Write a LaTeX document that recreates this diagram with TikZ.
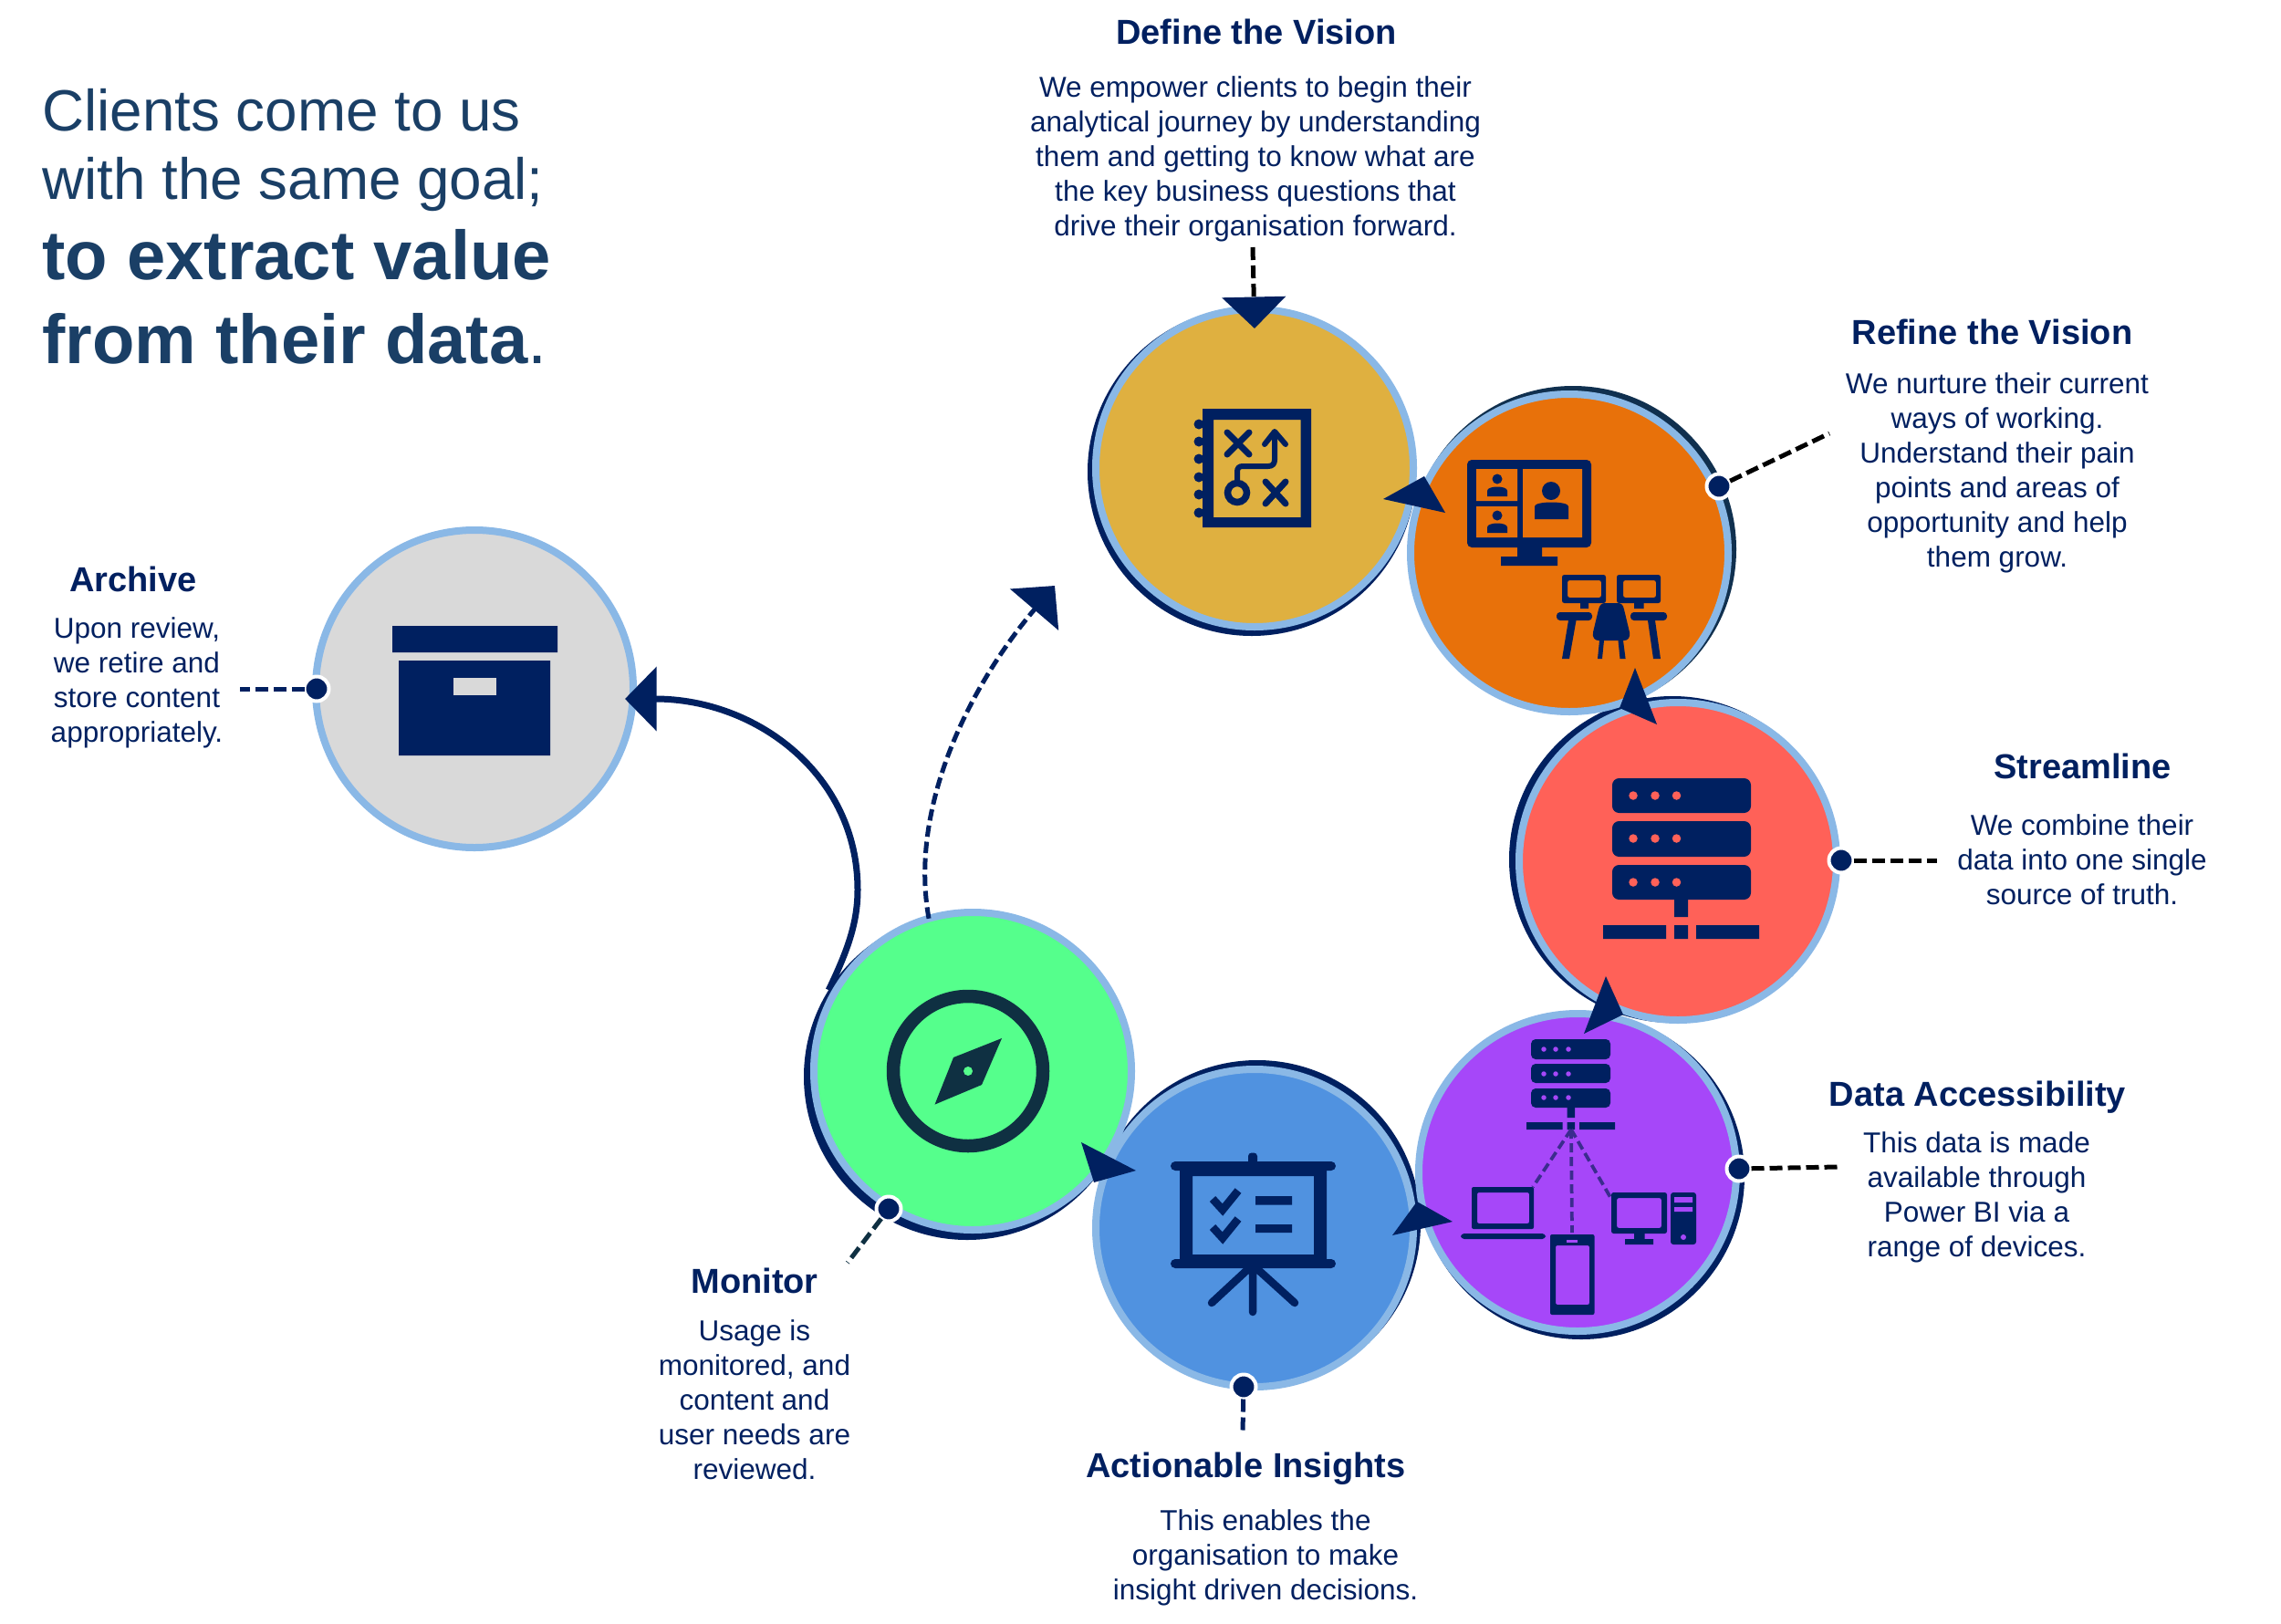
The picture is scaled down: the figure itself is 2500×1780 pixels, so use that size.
\documentclass[tikz,border=0pt]{standalone}
\usepackage{fontspec}
\setmainfont{Liberation Sans}
\usetikzlibrary{arrows.meta}
\definecolor{navy}{HTML}{002060}
\definecolor{ringblue}{HTML}{8AB8E6}
\definecolor{deepteal}{HTML}{0F3042}
\definecolor{titleblue}{HTML}{1A3F66}
\definecolor{refinedark}{HTML}{10304F}
\definecolor{fillgold}{HTML}{DFB040}
\definecolor{fillorange}{HTML}{E8710A}
\definecolor{fillred}{HTML}{FF6158}
\definecolor{fillpurple}{HTML}{A647F9}
\definecolor{fillblue}{HTML}{5092E0}
\definecolor{fillgreen}{HTML}{55FF8C}
\definecolor{fillgrey}{HTML}{D9D9D9}
\definecolor{linkpurple}{HTML}{3B2C8E}
\tikzset{
  disc/.style={circle,draw=ringblue,line width=3.2pt,minimum size=139.2pt,inner sep=0pt,outer sep=0pt},
  backdisc/.style={circle,minimum size=#1,inner sep=0pt,outer sep=0pt},
  pin/.style={circle,fill=navy,draw=white,line width=1.6pt,minimum size=10.8pt,inner sep=0pt,outer sep=0pt},
  leader/.style={line width=2pt,dash pattern=on 5.6pt off 2.4pt},
  arrowhead/.style={fill=navy},
  headtip/.style={-{Triangle[length=13.8pt,width=27.6pt,fill=navy,color=navy]}},
  heading/.style={font=\fontsize{15.2}{18}\selectfont\bfseries,text=navy,inner sep=0pt},
  bodytext/.style={font=\fontsize{12.6}{15.2}\selectfont,text=navy,align=center,inner sep=0pt},
  titlereg/.style={font=\fontsize{25.5}{30}\selectfont,text=titleblue,inner sep=0pt,anchor=base west},
  titlebold/.style={font=\fontsize{30.4}{34}\selectfont\bfseries,text=titleblue,inner sep=0pt,anchor=base west},
  icon/.style={fill=navy},
  iconline/.style={draw=navy,line width=2.8pt,line cap=round,line join=round},
}
\newcommand{\personfig}[7]{%
  \fill[icon] (#1,#2) circle (#3pt);
  \fill[icon] (#4,#7) -- (#4,#6+5) .. controls (#4,#6-1) and (#5,#6-1) .. (#5,#6+5) -- (#5,#7) -- cycle;
}
\begin{document}
\begin{tikzpicture}[x=0.4pt,y=-0.4pt]
\useasboundingbox (0,0) rectangle (2500,1780);
\fill[white] (0,0) rectangle (2500,1780);

% dark backing circles
\node[backdisc=144pt,fill=navy] (defineback) at (1372,517) {};
\node[backdisc=143.2pt,fill=refinedark] (refineback) at (1724,602) {};
\node[backdisc=143.2pt,fill=navy] (streamback) at (1833,942) {};
\node[backdisc=143.2pt,fill=navy] (accessback) at (1733,1289) {};
\node[backdisc=143.2pt,fill=navy] (insightback) at (1378,1341) {};
\node[backdisc=143.2pt,fill=navy] (monitorback) at (1060,1180) {};

% discs
\node[disc,fill=fillgold] (define) at (1375,513) {};
\node[disc,fill=fillorange] (refine) at (1720,606) {};
\node[disc,fill=fillred] (stream) at (1839,944) {};
\node[disc,fill=fillpurple] (access) at (1729,1285) {};
\node[disc,fill=fillblue] (insight) at (1375,1346) {};
\node[disc,fill=fillgrey] (archive) at (520,755) {};

% curved connectors
\coordinate (archivein) at (685,766);
\coordinate (defineaim) at (1156,642);
\draw[navy,line width=2.8pt,headtip] (monitorback.148.5) .. controls (930,1040) and (940,1010) .. (940,975) .. controls (940,850) and (830,766) .. (archivein);
\node[disc,fill=fillgreen] (monitor) at (1066,1174) {};
\draw[navy,line width=2pt,dash pattern=on 5pt off 2.2pt,headtip] (monitor.106) .. controls (995,880) and (1068,745) .. (defineaim);

% arrowheads between the discs
\coordinate (tipa) at (1516,547); \coordinate (basea1) at (1561,522); \coordinate (basea2) at (1584,562);
\coordinate (tipb) at (1792,732); \coordinate (baseb1) at (1775,776); \coordinate (baseb2) at (1816,794);
\coordinate (tipc) at (1760,1070); \coordinate (basec1) at (1736,1133); \coordinate (basec2) at (1779,1112);
\coordinate (tipd) at (1592,1339); \coordinate (based1) at (1526,1354); \coordinate (based2) at (1553,1317);
\coordinate (tipe) at (1245,1283); \coordinate (basee1) at (1185,1252); \coordinate (basee2) at (1199,1296);
\fill[arrowhead] (tipa) -- (basea1) -- (basea2) -- cycle;
\fill[arrowhead] (tipb) -- (baseb1) -- (baseb2) -- cycle;
\fill[arrowhead] (tipc) -- (basec1) -- (basec2) -- cycle;
\fill[arrowhead] (tipd) -- (based1) -- (based2) -- cycle;
\fill[arrowhead] (tipe) -- (basee1) -- (basee2) -- cycle;

% pins and leaders
\node[pin] (pinrefine) at (1884,533) {};
\node[pin] (pinstream) at (2018,943) {};
\node[pin] (pinaccess) at (1906,1281) {};
\node[pin] (pininsight) at (1363,1520) {};
\node[pin] (pinmonitor) at (974,1325) {};
\node[pin] (pinarchive) at (347,755) {};
\coordinate (leadrefine) at (2005,475);
\coordinate (leadstream) at (2123,943);
\coordinate (leadaccess) at (2015,1279);
\coordinate (leadinsight) at (1362,1570);
\coordinate (leadmonitor) at (929,1384);
\coordinate (leadarchive) at (263,755);
\coordinate (leaddefine) at (1373,271);
\coordinate (definetop) at (1375,360);
\draw[leader,black] (pinrefine) -- (leadrefine);
\draw[leader,black] (pinstream) -- (leadstream);
\draw[leader,black] (pinaccess) -- (leadaccess);
\draw[leader,navy] (pininsight) -- (leadinsight);
\draw[leader,deepteal] (pinmonitor) -- (leadmonitor);
\draw[leader,navy] (pinarchive) -- (leadarchive);
\draw[leader,black,headtip] (leaddefine) -- (definetop);

% Define icon
\fill[icon,even odd rule] (1318,448) rectangle (1437,578) (1330,460) rectangle (1425.5,567);
\foreach \yy in {465,484,503,523,542,562} {\fill[icon] (1314,\yy) circle (2.2pt);\fill[icon] (1310,\yy-1) rectangle (1318,\yy+1);}
\draw[iconline] (1345,474) -- (1369,498) (1369,474) -- (1345,498);
\draw[iconline] (1387,528) -- (1409,552) (1409,528) -- (1387,552);
\draw[iconline,line width=2.4pt] (1356,526) -- (1356,517) .. controls (1356,513) and (1358,511) .. (1362,511) -- (1390,511) .. controls (1395,511) and (1397,508) .. (1397,504) -- (1397,474);
\draw[iconline,line width=2.4pt] (1386,487) -- (1397,473) -- (1409,487);
\draw[navy,line width=3pt] (1356,540) circle (4.2pt);

% Refine icon
\fill[icon,rounded corners=2pt,even odd rule] (1608,504) rectangle (1744,600);
\fill[fillorange] (1618,514) rectangle (1663,549) (1618,555) rectangle (1663,589) (1669,514) rectangle (1734,589);
\fill[icon] (1663,600) rectangle (1690,610) (1645,610) rectangle (1707,620);
\personfig{1641}{525}{2.2}{1630}{1652}{533}{544}
\personfig{1641}{565}{2.2}{1630}{1652}{573}{584}
\personfig{1700}{538}{4}{1682}{1719}{550}{569}
\fill[icon,rounded corners=1pt,even odd rule] (1712,630) rectangle (1760,661) (1718,636) rectangle (1755,655);
\fill[icon,rounded corners=1pt,even odd rule] (1772,630) rectangle (1820,661) (1779,636) rectangle (1815,655);
\fill[icon] (1732,661) rectangle (1741,667) (1791,661) rectangle (1801.5,667);
\fill[icon,rounded corners=1.5pt] (1706,671) rectangle (1745,680);
\fill[icon,rounded corners=1.5pt] (1787,671) rectangle (1827,680);
\fill[icon] (1712,722) -- (1720,722) -- (1727.5,680) -- (1719,680) -- cycle;
\fill[icon] (1812,722) -- (1820,722) -- (1814,680) -- (1806,680) -- cycle;
\fill[icon] (1753,702) -- (1751,722) -- (1756,722) -- (1758,702) -- cycle;
\fill[icon] (1773.5,702) -- (1775.5,722) -- (1781.6,722) -- (1779,702) -- cycle;
\fill[icon] (1752,668) .. controls (1753,663) and (1756,661) .. (1759,661) -- (1773,661) .. controls (1777,661) and (1779,663) .. (1780,668) -- (1786,693) .. controls (1787,699) and (1784,702) .. (1780,702) -- (1752,702) .. controls (1748,702) and (1745,699) .. (1746,693) -- cycle;

% Streamline icon
\fill[icon,rounded corners=3pt] (1767,853) rectangle (1919,891);
\fill[icon,rounded corners=3pt] (1767,900) rectangle (1919,939);
\fill[icon,rounded corners=3pt] (1767,948) rectangle (1919,986);
\foreach \yy in {872,919,967} \foreach \xx in {1790,1814,1837.5} {\fill[fillred] (\xx,\yy) circle (1.9pt);}
\fill[icon] (1835,986) rectangle (1850,1005) (1757,1014) rectangle (1826,1029) (1835,1014) rectangle (1850,1029) (1859,1014) rectangle (1928,1029);

% Data Accessibility icon
\fill[icon,rounded corners=2pt] (1678,1139) rectangle (1765,1161);
\fill[icon,rounded corners=2pt] (1678,1166) rectangle (1765,1187);
\fill[icon,rounded corners=2pt] (1678,1193) rectangle (1765,1214);
\foreach \yy in {1150,1177,1203} \foreach \xx in {1692,1705,1719} {\fill[fillpurple] (\xx,\yy) circle (1.1pt);}
\fill[icon] (1717.5,1214) rectangle (1726,1225) (1673,1230) rectangle (1712.5,1238) (1717.5,1230) rectangle (1726,1238) (1731,1230) rectangle (1770,1238);
\coordinate (hubaccess) at (1722,1238);
\coordinate (laptoptop) at (1680,1301);
\coordinate (tablettop) at (1723,1351);
\coordinate (pcleft) at (1766,1314);
\draw[linkpurple,line width=1.5pt,dash pattern=on 4pt off 2pt] (hubaccess) -- (laptoptop);
\draw[linkpurple,line width=1.5pt,dash pattern=on 4pt off 2pt] (hubaccess) -- (tablettop);
\draw[linkpurple,line width=1.5pt,dash pattern=on 4pt off 2pt] (hubaccess) -- (pcleft);
\fill[icon,even odd rule,rounded corners=0.8pt] (1613,1301) rectangle (1681,1347) (1619,1307) rectangle (1676,1341);
\fill[icon,rounded corners=1.5pt] (1601,1352) rectangle (1694,1358);
\fill[icon,even odd rule,rounded corners=0.8pt] (1699,1353) rectangle (1747.5,1441) (1705,1365) rectangle (1742,1430);
\fill[fillpurple] (1717,1359) rectangle (1729,1362);
\fill[icon,even odd rule,rounded corners=1pt] (1766,1307) rectangle (1827,1352) (1772,1313) rectangle (1821,1346);
\fill[icon] (1791,1352) rectangle (1802.5,1358) (1781,1358) rectangle (1812,1364);
\fill[icon,rounded corners=1.2pt] (1831,1307) rectangle (1859,1364);
\fill[fillpurple] (1835,1312) rectangle (1855,1318) (1835,1323) rectangle (1855,1328);
\fill[fillpurple] (1845,1356) circle (1.2pt);

% Insights icon
\fill[icon,even odd rule] (1293,1283) rectangle (1454,1380) (1307,1289) rectangle (1440,1375);
\fill[icon,rounded corners=2pt] (1283,1273) rectangle (1464,1283);
\fill[icon,rounded corners=2pt] (1283,1380) rectangle (1464,1390);
\fill[icon,rounded corners=1.5pt] (1368,1263.5) rectangle (1378,1276);
\draw[iconline,line width=3.4pt] (1373,1390) -- (1373,1438) (1369,1390) -- (1328,1428) (1377,1390) -- (1419,1428);
\draw[navy,line width=3.5pt] (1329,1314) -- (1340,1326) -- (1357,1305);
\draw[navy,line width=3.5pt] (1329,1345) -- (1340,1357) -- (1357,1336);
\fill[icon] (1376,1311) rectangle (1416,1320.5) (1376,1342) rectangle (1416,1351);

% Monitor icon
\draw[deepteal,line width=5.8pt] (1061,1174) circle (32.8pt);
\fill[deepteal] (1098,1138) -- (1045,1159) -- (1024.5,1210.6) -- (1076,1189) -- cycle;
\fill[fillgreen] (1061,1174) circle (2pt);

% Archive icon
\fill[icon] (430,686) rectangle (611,715) (437,724) rectangle (603,828);
\fill[fillgrey] (497,743) rectangle (544,762);

% Texts
\node[titlereg] (title1) at (46,143) {Clients come to us};
\node[titlereg] (title2) at (46,218) {with the same goal;};
\node[titlebold] (title3) at (46,306) {to extract value};
\node[titlebold] (title4) at (46,398) {from their data\textmd{.}};

\node[heading] (h1) at (1377,35) {Define the Vision};
\node[bodytext] (b1) at (1376,174) {We empower clients to begin their\\analytical journey by understanding\\them and getting to know what are\\the key business questions that\\drive their organisation forward.};
\node[heading] (h2) at (2183.5,363.5) {Refine the Vision};
\node[bodytext] (b2) at (2189,518.5) {We nurture their current\\ways of working.\\Understand their pain\\points and areas of\\opportunity and help\\them grow.};
\node[heading] (h3) at (2282.5,840) {Streamline};
\node[bodytext] (b3) at (2282,942) {We combine their\\data into one single\\source of truth.};
\node[heading] (h4) at (2167.5,1202.5) {Data Accessibility};
\node[bodytext] (b4) at (2166.5,1312.5) {This data is made\\available through\\Power BI via a\\range of devices.};
\node[heading] (h5) at (1365.5,1609.5) {Actionable Insights};
\node[bodytext] (b5) at (1387,1707.5) {This enables the\\organisation to make\\insight driven decisions.};
\node[heading] (h6) at (827,1403.5) {Monitor};
\node[bodytext] (b6) at (827,1534.5) {Usage is\\monitored, and\\content and\\user needs are\\reviewed.};
\node[heading] (h7) at (146,634.5) {Archive};
\node[bodytext] (b7) at (150,748) {Upon review,\\we retire and\\store content\\appropriately.};
\end{tikzpicture}
\end{document}
